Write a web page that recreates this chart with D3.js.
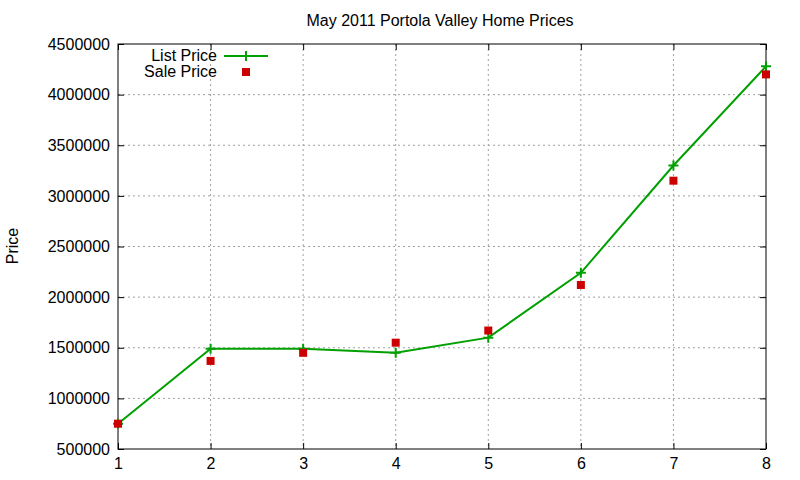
<!DOCTYPE html>
<html><head><meta charset="utf-8">
<script src="https://cdn.jsdelivr.net/npm/d3@7"></script>
<style>body{margin:0;background:#fff}text{font-family:"Liberation Sans",Arial,sans-serif}</style>
</head><body><div id="chart"></div>
<script>
const xValues = [1, 2, 3, 4, 5, 6, 7, 8];
const listPrice = [750000, 1490000, 1490000, 1450000, 1600000, 2240000, 3300000, 4280000];
const salePrice = [750000, 1370000, 1450000, 1550000, 1670000, 2120000, 3150000, 4200000];
const yTicks = [500000, 1000000, 1500000, 2000000, 2500000, 3000000, 3500000, 4000000, 4500000];

const margin = { top: 44, right: 34, bottom: 31, left: 118 };
const width = 800 - margin.left - margin.right;
const height = 480 - margin.top - margin.bottom;

const svg = d3.select("#chart").append("svg")
    .attr("width", 800).attr("height", 480);
const g = svg.append("g")
    .attr("transform", "translate(" + margin.left + "," + margin.top + ")");

const x = d3.scaleLinear().domain([1, 8]).range([0, width]);
const y = d3.scaleLinear().domain([500000, 4500000]).range([height, 0]);

// grid
g.selectAll(".gx").data(xValues.slice(1, -1)).enter().append("line")
    .attr("x1", d => x(d)).attr("x2", d => x(d)).attr("y1", 0).attr("y2", height)
    .attr("stroke", "#a0a0a0").attr("stroke-dasharray", "2,3");
g.selectAll(".gy").data(yTicks.slice(1, -1)).enter().append("line")
    .attr("x1", 0).attr("x2", width).attr("y1", d => y(d)).attr("y2", d => y(d))
    .attr("stroke", "#a0a0a0").attr("stroke-dasharray", "2,3");

// axes
g.append("g").attr("transform", "translate(0," + height + ")")
    .call(d3.axisBottom(x).tickValues(xValues).tickFormat(d3.format("d")).tickSize(-6).tickPadding(9));
g.append("g")
    .call(d3.axisLeft(y).tickValues(yTicks).tickFormat(d3.format("d")).tickSize(-6).tickPadding(8));
g.append("g").attr("transform", "translate(" + width + ",0)")
    .call(d3.axisRight(y).tickValues(yTicks).tickFormat("").tickSize(-6));
g.append("g").call(d3.axisTop(x).tickValues(xValues).tickFormat("").tickSize(-6));
g.selectAll(".domain").remove();
g.selectAll(".tick text").attr("font-size", 16).attr("fill", "#000").style("font-family", "Liberation Sans, Arial, sans-serif");
g.selectAll(".tick line").attr("stroke", "#000");
g.append("rect").attr("width", width).attr("height", height)
    .attr("fill", "none").attr("stroke", "#000");

// list price line
const line = d3.line().x((d, i) => x(xValues[i])).y(d => y(d));
g.append("path").datum(listPrice).attr("d", line)
    .attr("fill", "none").attr("stroke", "#00a000").attr("stroke-width", 2);
g.selectAll(".plus").data(listPrice).enter().append("path")
    .attr("d", (d, i) => `M${x(xValues[i]) - 5},${y(d)}h10M${x(xValues[i])},${y(d) - 5}v10`)
    .attr("stroke", "#00a000").attr("stroke-width", 2);

// sale price squares
g.selectAll(".sq").data(salePrice).enter().append("rect")
    .attr("x", (d, i) => x(xValues[i]) - 4).attr("y", d => y(d) - 4)
    .attr("width", 8).attr("height", 8).attr("fill", "#cc0000");

// title and labels
svg.append("text").attr("x", 440).attr("y", 26).attr("text-anchor", "middle")
    .attr("font-size", 16).text("May 2011 Portola Valley Home Prices");
svg.append("text").attr("transform", "translate(18,246) rotate(-90)")
    .attr("text-anchor", "middle").attr("font-size", 16).text("Price");

// legend
svg.append("text").attr("x", 217).attr("y", 61).attr("text-anchor", "end").attr("font-size", 16).text("List Price");
svg.append("line").attr("x1", 224).attr("x2", 268).attr("y1", 56).attr("y2", 56)
    .attr("stroke", "#00a000").attr("stroke-width", 2);
svg.append("path").attr("d", "M241,56h10M246,51v10").attr("stroke", "#00a000").attr("stroke-width", 2);
svg.append("text").attr("x", 217).attr("y", 77).attr("text-anchor", "end").attr("font-size", 16).text("Sale Price");
svg.append("rect").attr("x", 242).attr("y", 68).attr("width", 8).attr("height", 8).attr("fill", "#cc0000");
</script></body></html>
